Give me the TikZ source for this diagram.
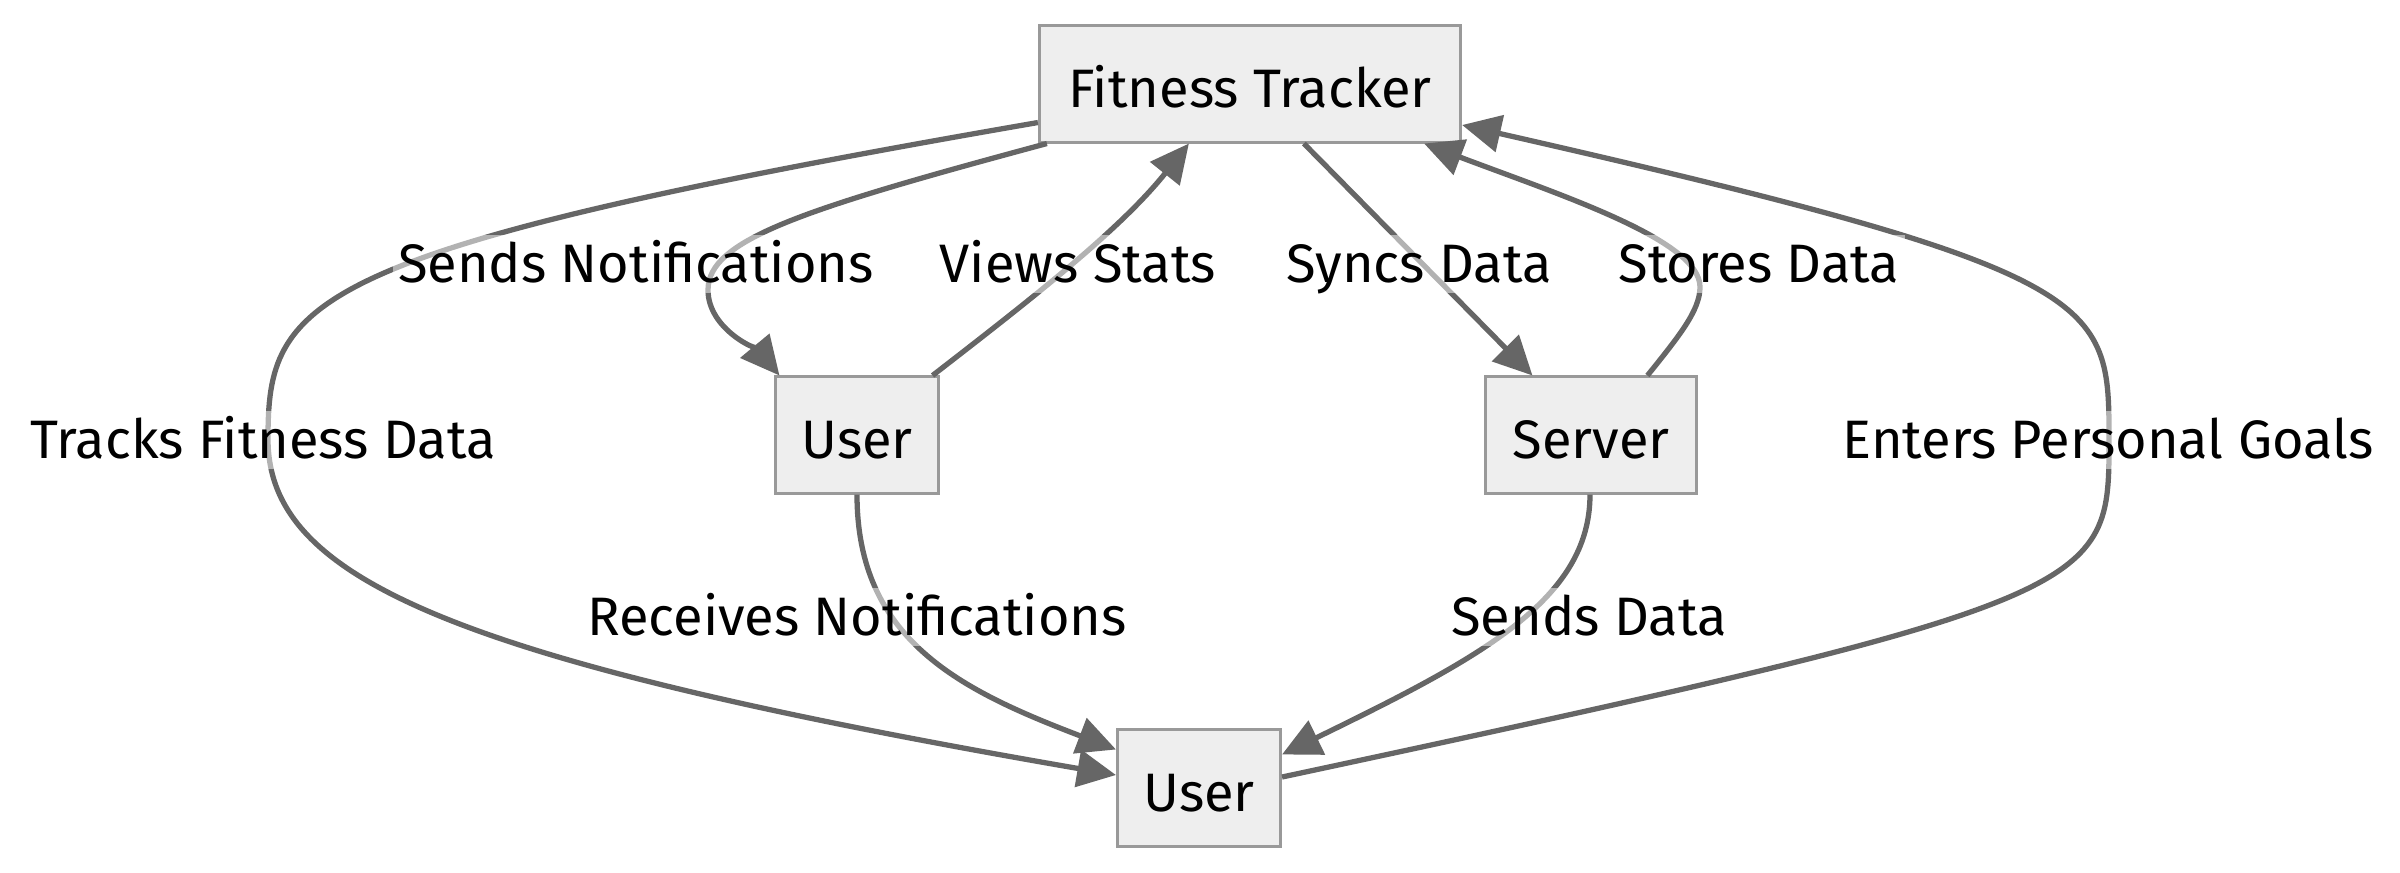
\documentclass[tikz,border=0pt]{standalone}
\usepackage{fontspec}
\setmainfont{Fira Sans}
\usepackage{tikz}
\usetikzlibrary{arrows.meta, calc}
\usepackage{xcolor}
\definecolor{edgegray}{RGB}{102,102,102}
\definecolor{boxfill}{RGB}{238,238,238}
\definecolor{boxline}{RGB}{153,153,153}

\begin{document}
\begin{tikzpicture}[x=0.01cm, y=-0.01cm,
        >={Triangle[length=11pt, width=10.5pt]},
        box/.style={draw=boxline, fill=boxfill, line width=0.85pt,
            minimum height=1.16cm, inner sep=0pt,
            text height=15pt, text depth=1.8pt,
            font=\fontsize{15.4}{18}\selectfont},
        flow/.style={->, draw=edgegray, line width=1.5pt},
        lbl/.style={fill=white, fill opacity=0.5, text opacity=1,
            inner xsep=1.5pt, inner ysep=0pt,
            text height=13.6pt, text depth=3.1pt,
            font=\fontsize{15.4}{18}\selectfont}]
        \useasboundingbox (0,0) rectangle (2400,872);

        % --- Boîtes ---
        \node[box, minimum width=4.21cm] (tracker) at (1250,84) {Fitness Tracker};
        \node[box, minimum width=1.62cm] (userTop) at (857,435) {User};
        \node[box, minimum width=2.10cm] (server) at (1591,435) {Server};
        \node[box, minimum width=1.63cm] (userBot) at (1199,788) {User};

        % --- Liens ---
        \draw[flow] ($(tracker.south west)+(0,-21)$)
            .. controls (300,250) and (268,300) .. (268,439)
            .. controls (268,578) and (450,660) .. ($(userBot.west)+(0,-13)$);
        \draw[flow] ($(tracker.south west)+(9,0)$)
            .. controls (800,210) and (708,240) .. (708,290)
            .. controls (708,330) and (760,352) .. ($(userTop.north west)+(5,0)$);
        \draw[flow] ($(userTop.north east)+(-7,0)$)
            .. controls (1030,300) and (1120,230) .. ($(tracker.south west)+(151,0)$);
        \draw[flow] ($(tracker.south west)+(266,0)$) -- ($(server.north west)+(48,0)$);
        \draw[flow] ($(server.north west)+(163,0)$)
            .. controls (1680,335) and (1700,310) .. (1700,287)
            .. controls (1700,240) and (1560,195) .. ($(tracker.south east)+(-38,0)$);
        \draw[flow] ($(userBot.east)+(0,-11)$)
            .. controls (2110,600) and (2109,590) .. (2109,440)
            .. controls (2109,300) and (2109,272) .. ($(tracker.east)+(0,41)$);
        \draw[flow] (userTop.south)
            .. controls (857,640) and (960,690) .. ($(userBot.north west)+(0,21)$);
        \draw[flow] ($(server.south)+(-1,0)$)
            .. controls (1590,600) and (1480,658) .. ($(userBot.north east)+(0,26)$);

        % --- Étiquettes ---
        \node[lbl] (lTracks) at (263,440) {Tracks Fitness Data};
        \node[lbl] (lSendsNotif) at (636,264) {Sends Notifications};
        \node[lbl] (lViews) at (1078,264) {Views Stats};
        \node[lbl] (lSyncs) at (1419,264) {Syncs Data};
        \node[lbl] (lStores) at (1759,264) {Stores Data};
        \node[lbl] (lGoals) at (2108,440) {Enters Personal Goals};
        \node[lbl] (lReceives) at (857,617) {Receives Notifications};
        \node[lbl] (lSendsData) at (1589,617) {Sends Data};
    \end{tikzpicture}
\end{document}
